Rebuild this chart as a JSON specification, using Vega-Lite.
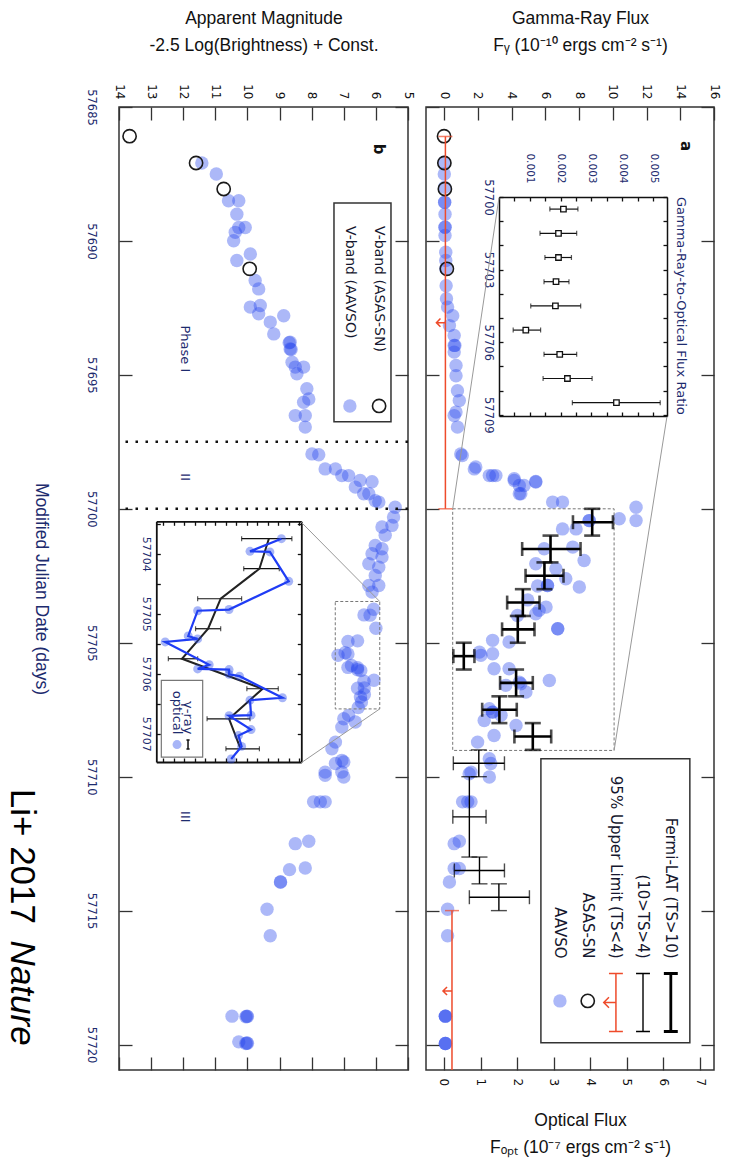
{
"$schema":"https://vega.github.io/schema/vega-lite/v6.json",
"padding":{"left":3,"top":8,"right":5,"bottom":4},
"config":{
 "view":{"stroke":"#333","strokeWidth":1.5},
 "axis":{"grid":false,"domain":false,"tickColor":"#333","tickWidth":1.3,"labelFont":"DejaVu Sans","labelFontSize":11.5,"labelColor":"#111","labelOverlap":false,"labelFlush":false,"labelBound":false,"titleFont":"Liberation Sans","titleFontSize":17.5,"titleFontWeight":"normal","titleColor":"#111"},
 "text":{"font":"DejaVu Sans"}
},
"datasets":{
 "aavso_mag":[
{"mjd":57687.09,"mag":11.42},{"mjd":57687.5,"mag":10.97},{"mjd":57688.5,"mag":10.59},{"mjd":57688.5,"mag":10.27},{"mjd":57689.0,"mag":10.33},{"mjd":57689.5,"mag":10.27},{"mjd":57689.5,"mag":10.07},{"mjd":57689.68,"mag":10.38},{"mjd":57689.99,"mag":10.43},{"mjd":57690.49,"mag":9.91},{"mjd":57690.73,"mag":10.33},{"mjd":57691.48,"mag":9.76},{"mjd":57691.79,"mag":9.65},{"mjd":57692.41,"mag":9.6},{"mjd":57692.47,"mag":9.91},{"mjd":57692.72,"mag":9.65},{"mjd":57692.79,"mag":8.87},{"mjd":57693.03,"mag":9.29},{"mjd":57693.47,"mag":9.18},{"mjd":57693.78,"mag":8.67},{"mjd":57693.8,"mag":8.7},{"mjd":57694.03,"mag":8.67},{"mjd":57694.05,"mag":8.64},{"mjd":57694.53,"mag":8.61},{"mjd":57694.71,"mag":8.51},{"mjd":57694.71,"mag":8.25},{"mjd":57694.96,"mag":8.46},{"mjd":57695.52,"mag":8.15},{"mjd":57695.9,"mag":8.09},{"mjd":57696.02,"mag":8.25},{"mjd":57696.52,"mag":8.51},{"mjd":57696.52,"mag":8.2},{"mjd":57696.95,"mag":8.2},{"mjd":57697.95,"mag":7.99},{"mjd":57697.98,"mag":7.78},{"mjd":57698.51,"mag":7.58},{"mjd":57698.51,"mag":7.26},{"mjd":57698.76,"mag":7.06},{"mjd":57698.76,"mag":6.85},{"mjd":57698.94,"mag":6.49},{"mjd":57698.99,"mag":6.12},{"mjd":57699.19,"mag":6.64},{"mjd":57699.44,"mag":6.38},{"mjd":57699.44,"mag":6.22},{"mjd":57699.7,"mag":6.02},{"mjd":57699.75,"mag":5.91},{"mjd":57699.94,"mag":5.4},{"mjd":57700.31,"mag":5.45},{"mjd":57700.62,"mag":5.5},{"mjd":57700.68,"mag":5.81},{"mjd":57700.99,"mag":5.71},{"mjd":57701.37,"mag":6.02},{"mjd":57701.49,"mag":5.81},{"mjd":57701.68,"mag":6.12},{"mjd":57701.8,"mag":5.81},{"mjd":57702.05,"mag":6.22},{"mjd":57702.18,"mag":5.91},{"mjd":57702.49,"mag":6.02},{"mjd":57702.86,"mag":6.22},{"mjd":57702.86,"mag":5.91},{"mjd":57703.11,"mag":6.12},
{"mjd":57703.75,"mag":6.07},{"mjd":57703.96,"mag":6.37},{"mjd":57703.97,"mag":6.18},{"mjd":57704.46,"mag":6.0},{"mjd":57704.93,"mag":6.57},{"mjd":57704.95,"mag":6.87},{"mjd":57705.37,"mag":6.96},{"mjd":57705.42,"mag":6.87},{"mjd":57705.47,"mag":7.18},{"mjd":57705.85,"mag":6.76},{"mjd":57705.92,"mag":6.87},{"mjd":57705.93,"mag":6.57},{"mjd":57706.01,"mag":6.57},{"mjd":57706.04,"mag":6.47},{"mjd":57706.4,"mag":6.06},{"mjd":57706.44,"mag":6.37},{"mjd":57706.69,"mag":6.36},{"mjd":57706.7,"mag":6.57},{"mjd":57706.93,"mag":6.36},{"mjd":57707.03,"mag":6.48},{"mjd":57707.21,"mag":6.45},{"mjd":57707.42,"mag":6.55},
{"mjd":57707.71,"mag":6.85},{"mjd":57707.84,"mag":7.0},{"mjd":57707.96,"mag":6.64},{"mjd":57708.15,"mag":7.06},{"mjd":57708.71,"mag":7.26},{"mjd":57708.96,"mag":7.37},{"mjd":57709.39,"mag":7.06},{"mjd":57709.45,"mag":7.0},{"mjd":57709.51,"mag":7.26},{"mjd":57709.83,"mag":7.58},{"mjd":57709.83,"mag":7.06},{"mjd":57709.95,"mag":7.58},{"mjd":57710.01,"mag":7.0},{"mjd":57710.94,"mag":7.94},{"mjd":57710.94,"mag":7.73},{"mjd":57710.94,"mag":7.58},{"mjd":57712.41,"mag":8.09},{"mjd":57712.5,"mag":8.51},{"mjd":57713.41,"mag":8.2},{"mjd":57713.47,"mag":8.69},{"mjd":57713.93,"mag":8.97},{"mjd":57713.93,"mag":8.97},{"mjd":57714.95,"mag":9.39},{"mjd":57715.94,"mag":9.29},{"mjd":57718.94,"mag":10.48},{"mjd":57718.94,"mag":10.02},{"mjd":57718.96,"mag":10.05},{"mjd":57718.95,"mag":10.0},{"mjd":57719.9,"mag":10.27},{"mjd":57719.94,"mag":10.02},{"mjd":57719.96,"mag":10.05},{"mjd":57719.95,"mag":10.0}
 ],
 "aavso_flux":[
{"mjd":57687.06,"flux":0.01},{"mjd":57687.5,"flux":0.01},{"mjd":57688.0,"flux":0.02},{"mjd":57688.56,"flux":0.02},{"mjd":57688.56,"flux":0.02},{"mjd":57689.0,"flux":0.03},{"mjd":57689.49,"flux":0.03},{"mjd":57689.49,"flux":0.03},{"mjd":57689.8,"flux":0.03},{"mjd":57690.42,"flux":0.05},{"mjd":57690.73,"flux":0.05},{"mjd":57691.04,"flux":0.05},{"mjd":57691.67,"flux":0.06},{"mjd":57692.16,"flux":0.07},{"mjd":57692.47,"flux":0.1},{"mjd":57692.79,"flux":0.24},{"mjd":57693.16,"flux":0.15},{"mjd":57693.53,"flux":0.28},{"mjd":57693.9,"flux":0.28},{"mjd":57693.9,"flux":0.3},{"mjd":57694.15,"flux":0.28},{"mjd":57694.65,"flux":0.33},{"mjd":57695.03,"flux":0.33},{"mjd":57695.59,"flux":0.37},{"mjd":57695.96,"flux":0.42},{"mjd":57696.39,"flux":0.33},{"mjd":57696.52,"flux":0.28},{"mjd":57696.95,"flux":0.37},{"mjd":57697.95,"flux":0.46},{"mjd":57698.01,"flux":0.5},{"mjd":57698.44,"flux":0.87},{"mjd":57698.51,"flux":0.83},{"mjd":57698.76,"flux":1.24},{"mjd":57698.76,"flux":1.33},{"mjd":57698.76,"flux":1.42},{"mjd":57698.88,"flux":1.92},{"mjd":57698.94,"flux":1.92},{"mjd":57698.98,"flux":2.51},{"mjd":57699.0,"flux":2.51},{"mjd":57699.13,"flux":2.06},{"mjd":57699.13,"flux":2.19},{"mjd":57699.44,"flux":2.06},{"mjd":57699.44,"flux":2.1},
{"mjd":57699.75,"flux":2.97},{"mjd":57699.75,"flux":3.24},{"mjd":57699.94,"flux":5.25},{"mjd":57700.44,"flux":5.25},{"mjd":57700.37,"flux":4.79},{"mjd":57700.44,"flux":3.97},{"mjd":57700.44,"flux":3.97},{"mjd":57700.75,"flux":3.24},{"mjd":57700.75,"flux":3.61},{"mjd":57701.43,"flux":3.52},{"mjd":57701.49,"flux":2.74},{"mjd":57701.93,"flux":3.83},{"mjd":57702.05,"flux":2.51},{"mjd":57702.24,"flux":3.06},{"mjd":57702.61,"flux":3.33},{"mjd":57702.92,"flux":3.7},{"mjd":57702.86,"flux":2.83},{"mjd":57702.86,"flux":2.83},{"mjd":57702.88,"flux":2.56},{"mjd":57703.4,"flux":2.29},{"mjd":57703.67,"flux":2.79},{"mjd":57703.79,"flux":2.6},{"mjd":57703.92,"flux":2.51},{"mjd":57703.98,"flux":2.01},{"mjd":57704.48,"flux":3.11},{"mjd":57704.48,"flux":3.11},{"mjd":57704.97,"flux":1.78},{"mjd":57704.91,"flux":1.33},{"mjd":57705.35,"flux":0.97},{"mjd":57705.41,"flux":1.33},{"mjd":57705.47,"flux":1.01},{"mjd":57705.97,"flux":1.37},{"mjd":57705.97,"flux":1.78},{"mjd":57706.47,"flux":2.06},{"mjd":57706.41,"flux":2.88},{"mjd":57706.53,"flux":2.1},{"mjd":57706.84,"flux":2.24},{"mjd":57706.59,"flux":1.69},{"mjd":57707.46,"flux":1.24},{"mjd":57707.59,"flux":1.33},{"mjd":57707.59,"flux":1.33},{"mjd":57707.71,"flux":1.56},{"mjd":57707.9,"flux":1.1},{"mjd":57708.09,"flux":1.97},{"mjd":57708.46,"flux":1.37},{"mjd":57708.71,"flux":0.92},{"mjd":57709.33,"flux":1.24},{"mjd":57709.51,"flux":1.28},{"mjd":57709.83,"flux":0.74},{"mjd":57709.89,"flux":0.69},{"mjd":57710.01,"flux":1.24},
{"mjd":57710.94,"flux":0.51},{"mjd":57710.94,"flux":0.65},{"mjd":57710.94,"flux":0.74},{"mjd":57712.41,"flux":0.42},{"mjd":57712.5,"flux":0.28},{"mjd":57713.43,"flux":0.28},{"mjd":57713.43,"flux":0.42},{"mjd":57713.93,"flux":0.15},{"mjd":57714.95,"flux":0.1},{"mjd":57715.94,"flux":0.1},{"mjd":57718.94,"flux":0.04},{"mjd":57718.94,"flux":0.04},{"mjd":57718.94,"flux":0.04},{"mjd":57719.96,"flux":0.04},{"mjd":57719.96,"flux":0.04},{"mjd":57719.96,"flux":0.04}
 ],
 "asassn":[{"mjd":57686.09,"mag":13.67,"flux":0.003},{"mjd":57687.09,"mag":11.6,"flux":0.012},{"mjd":57688.06,"mag":10.74,"flux":0.026},{"mjd":57691.04,"mag":9.93,"flux":0.08}],
 "phase_bounds":[{"mjd":57697.5},{"mjd":57700}],
 "phases":[{"label":"Phase I","mjd":57694.03},{"label":"II","mjd":57698.82},{"label":"III","mjd":57711.5}],
 "fermi":[
{"t":57700.5,"t0":57700,"t1":57701,"g":8.78,"g0":7.64,"g1":10.01,"ts":"TS>10"},
{"t":57701.5,"t0":57701,"t1":57702,"g":6.31,"g0":4.63,"g1":8.09,"ts":"TS>10"},
{"t":57702.5,"t0":57702,"t1":57703,"g":5.95,"g0":4.83,"g1":7.08,"ts":"TS>10"},
{"t":57703.5,"t0":57703,"t1":57704,"g":4.67,"g0":3.74,"g1":5.66,"ts":"TS>10"},
{"t":57704.5,"t0":57704,"t1":57705,"g":4.37,"g0":3.44,"g1":5.36,"ts":"TS>10"},
{"t":57705.5,"t0":57705,"t1":57706,"g":1.17,"g0":0.55,"g1":1.8,"ts":"TS>10"},
{"t":57706.5,"t0":57706,"t1":57707,"g":4.27,"g0":3.32,"g1":5.26,"ts":"TS>10"},
{"t":57707.5,"t0":57707,"t1":57708,"g":3.28,"g0":2.26,"g1":4.31,"ts":"TS>10"},
{"t":57708.5,"t0":57708,"t1":57709,"g":5.26,"g0":4.17,"g1":6.35,"ts":"TS>10"},
{"t":57709.5,"t0":57709,"t1":57710,"g":2.06,"g0":0.55,"g1":3.58,"ts":"10>TS>4"},
{"t":57711.5,"t0":57710,"t1":57713,"g":1.5,"g0":0.52,"g1":2.49,"ts":"10>TS>4"},
{"t":57713.5,"t0":57713,"t1":57714,"g":2.1,"g0":0.61,"g1":3.58,"ts":"10>TS>4"},
{"t":57714.5,"t0":57714,"t1":57715,"g":3.25,"g0":1.5,"g1":5.06,"ts":"10>TS>4"}
 ],
 "ul":[{"t0":57686.1,"t1":57700,"tc":57693.05,"g":0.08},{"t0":57715,"t1":57721,"tc":57718,"g":0.47}],
 "ratio":[
{"mjd":57700.5,"r":0.00209,"r0":0.00165,"r1":0.00256},{"mjd":57701.5,"r":0.00193,"r0":0.00133,"r1":0.00252},{"mjd":57702.5,"r":0.00193,"r0":0.00149,"r1":0.00235},{"mjd":57703.5,"r":0.00185,"r0":0.00146,"r1":0.00227},{"mjd":57704.5,"r":0.00183,"r0":0.00103,"r1":0.00265},{"mjd":57705.5,"r":0.00087,"r0":0.00046,"r1":0.00135},{"mjd":57706.5,"r":0.00197,"r0":0.00146,"r1":0.00252},{"mjd":57707.5,"r":0.00222,"r0":0.00143,"r1":0.00302},{"mjd":57708.5,"r":0.00381,"r0":0.00238,"r1":0.00523}
 ],
 "inset_gam":[
{"mjd":57703.75,"v":6.19,"v1":6.45,"v2":5.97},{"mjd":57704.25,"v":6.28,"v1":6.43,"v2":6.09},{"mjd":57704.75,"v":6.65,"v1":6.87,"v2":6.45},{"mjd":57705.25,"v":6.77,"v1":6.89,"v2":6.65},{"mjd":57705.75,"v":7.02,"v1":7.15,"v2":6.87},{"mjd":57706.25,"v":6.25,"v1":6.4,"v2":6.1},{"mjd":57706.75,"v":6.57,"v1":6.78,"v2":6.37},{"mjd":57707.25,"v":6.46,"v1":6.6,"v2":6.28}
 ]
},
"spacing":9,
"hconcat":[
{
 "width":289,"height":963,
 "resolve":{"scale":{"x":"independent","y":"independent"}},
 "layer":[
  {
   "resolve":{"axis":{"x":"independent","y":"independent"}},
   "layer":[
    {"data":{"name":"aavso_mag"},"mark":{"type":"point","filled":true,"color":"#2445ec","opacity":0.38,"size":180,"strokeWidth":0},
     "encoding":{
      "x":{"field":"mag","type":"quantitative","scale":{"domain":[5,14],"reverse":true,"nice":false,"zero":false},
           "axis":{"orient":"top","values":[5,6,7,8,9,10,11,12,13,14],"labelAngle":90,"tickSize":-13,"labelPadding":21,"labelFontSize":12,"title":["Apparent Magnitude","-2.5 Log(Brightness) + Const."],"titlePadding":29,"titleLineHeight":27}},
      "y":{"field":"mjd","type":"quantitative","scale":{"domain":[57685,57720.95],"reverse":true,"nice":false,"zero":false},
           "axis":{"orient":"left","values":[57685,57690,57695,57700,57705,57710,57715,57720],"format":"d","labelAngle":90,"tickSize":-13,"labelPadding":36,"labelColor":"#1d2b6e","title":"Modified Julian Date (days)","titleAngle":90,"titleBaseline":"top","titlePadding":35,"titleColor":"#1d2b6e"}}}},
    {"data":{"name":"asassn"},"mark":{"type":"point","filled":false,"color":"#1a1a1a","strokeWidth":1.6,"size":175,"opacity":1},
     "encoding":{
      "x":{"field":"mag","type":"quantitative","axis":{"orient":"bottom","values":[5,6,7,8,9,10,11,12,13,14],"labels":false,"tickSize":-13,"title":null}},
      "y":{"field":"mjd","type":"quantitative","axis":{"orient":"right","values":[57685,57690,57695,57700,57705,57710,57715,57720],"labels":false,"tickSize":-13,"title":null}}}},
    {"data":{"name":"phase_bounds"},"mark":{"type":"rule","color":"#111","strokeWidth":2.5,"strokeDash":[2.5,7.5]},
     "encoding":{"y":{"field":"mjd","type":"quantitative","axis":null}}},
    {"data":{"name":"phases"},"mark":{"type":"text","angle":90,"fontSize":13,"color":"#1d2b6e","align":"center","baseline":"middle"},
     "encoding":{"x":{"datum":11.96,"axis":null},"y":{"field":"mjd","type":"quantitative","axis":null},"text":{"field":"label"}}},
    {"data":{"values":[{}]},"mark":{"type":"rect","fill":"white","stroke":"#333","strokeWidth":1.5},
     "encoding":{"x":{"datum":7.305,"axis":null},"x2":{"datum":5.53},"y":{"datum":57688.58,"axis":null},"y2":{"datum":57696.75}}},
    {"data":{"values":[{}]},"mark":{"type":"text","angle":90,"align":"left","baseline":"middle","fontSize":14,"color":"#15172e","text":"V-band (ASAS-SN)"},
     "encoding":{"x":{"datum":5.9,"axis":null},"y":{"datum":57689.44,"axis":null}}},
    {"data":{"values":[{}]},"mark":{"type":"text","angle":90,"align":"left","baseline":"middle","fontSize":14,"color":"#15172e","text":"V-band (AAVSO)"},
     "encoding":{"x":{"datum":6.81,"axis":null},"y":{"datum":57689.44,"axis":null}}},
    {"data":{"values":[{}]},"mark":{"type":"point","filled":false,"color":"#1a1a1a","strokeWidth":1.6,"size":175,"opacity":1},
     "encoding":{"x":{"datum":5.9,"axis":null},"y":{"datum":57696.16,"axis":null}}},
    {"data":{"values":[{}]},"mark":{"type":"point","filled":true,"color":"#2445ec","opacity":0.38,"size":180,"strokeWidth":0},
     "encoding":{"x":{"datum":6.81,"axis":null},"y":{"datum":57696.16,"axis":null}}},
    {"data":{"values":[{}]},"mark":{"type":"text","angle":90,"align":"center","baseline":"middle","fontSize":15,"fontWeight":"bold","color":"#111","text":"b"},
     "encoding":{"x":{"datum":5.91,"axis":null},"y":{"datum":57686.57,"axis":null}}},
    {"data":{"values":[{}]},"mark":{"type":"rect","fillOpacity":0,"stroke":"#777","strokeWidth":1,"strokeDash":[3,2]},
     "encoding":{"x":{"datum":7.265,"axis":null},"x2":{"datum":5.88},"y":{"datum":57703.46,"axis":null},"y2":{"datum":57707.47}}},
    {"data":{"values":[{}]},"mark":{"type":"rule","color":"#999","strokeWidth":1},
     "encoding":{"x":{"datum":8.324,"axis":null},"y":{"datum":57700.5,"axis":null},"x2":{"datum":5.88},"y2":{"datum":57703.46}}},
    {"data":{"values":[{}]},"mark":{"type":"rule","color":"#999","strokeWidth":1},
     "encoding":{"x":{"datum":8.324,"axis":null},"y":{"datum":57709.48,"axis":null},"x2":{"datum":5.88},"y2":{"datum":57707.47}}},
    {"data":{"values":[{}]},"mark":{"type":"text","angle":90,"align":"left","baseline":"middle","font":"Liberation Sans","fontSize":35,"color":"#000","text":"Li+ 2017"},
     "encoding":{"x":{"datum":17.02,"axis":null},"y":{"datum":57710.45,"axis":null}}},
    {"data":{"values":[{}]},"mark":{"type":"text","angle":90,"align":"left","baseline":"middle","font":"Liberation Sans","fontSize":35,"fontStyle":"italic","color":"#000","text":"Nature"},
     "encoding":{"x":{"datum":17.02,"axis":null},"y":{"datum":57716.12,"axis":null}}}
   ]
  },
  {
   "resolve":{"axis":{"x":"independent","y":"independent"}},
   "layer":[
    {"data":{"name":"inset_gam"},"mark":{"type":"rule","color":"#111","strokeWidth":1.2},
     "encoding":{
      "x":{"field":"v1","type":"quantitative","scale":{"domain":[5.88,7.265],"range":[182.3,37.3],"nice":false,"zero":false},
           "axis":{"orient":"top","offset":-414.3,"values":[5.9,6.0,6.1,6.2,6.3,6.4,6.5,6.6,6.7,6.8,6.9,7.0,7.1,7.2],"labels":false,"tickSize":-4,"domain":true,"domainColor":"#111","domainWidth":1.8,"tickColor":"#111","title":null}},
      "x2":{"field":"v2"},
      "y":{"field":"mjd","type":"quantitative","scale":{"domain":[57703.46,57707.47],"range":[414.3,655],"nice":false,"zero":false},
           "axis":{"orient":"left","offset":-37.3,"values":[57703.5,57704,57704.5,57705,57705.5,57706,57706.5,57707],"labelExpr":"datum.value % 1 == 0 ? format(datum.value, 'd') : ''","labelAngle":90,"tickSize":-4,"labelPadding":9,"labelColor":"#1d2b6e","labelFontSize":11,"domain":true,"domainColor":"#111","domainWidth":1.8,"tickColor":"#111","title":null}}}},
    {"data":{"name":"inset_gam"},"transform":[{"fold":["v1","v2"],"as":["end","vv"]}],"mark":{"type":"tick","orient":"vertical","color":"#111","size":5,"thickness":1.2},
     "encoding":{
      "x":{"field":"vv","type":"quantitative","axis":{"orient":"bottom","offset":-308,"values":[5.9,6.0,6.1,6.2,6.3,6.4,6.5,6.6,6.7,6.8,6.9,7.0,7.1,7.2],"labels":false,"tickSize":-4,"domain":true,"domainColor":"#111","domainWidth":1.8,"tickColor":"#111","title":null}},
      "y":{"field":"mjd","type":"quantitative","axis":{"orient":"right","offset":-106.7,"values":[57703.5,57704,57704.5,57705,57705.5,57706,57706.5,57707],"labels":false,"tickSize":-4,"domain":true,"domainColor":"#111","domainWidth":1.8,"tickColor":"#111","title":null}}}},
    {"data":{"name":"inset_gam"},"mark":{"type":"line","color":"#222","strokeWidth":2},
     "encoding":{"x":{"field":"v","type":"quantitative","axis":null},"y":{"field":"mjd","type":"quantitative","axis":null},"order":{"field":"mjd"}}},
    {"data":{"name":"aavso_mag"},"transform":[{"filter":"datum.mjd > 57703.46 && datum.mjd < 57707.47"}],"mark":{"type":"line","color":"#1f3cf5","strokeWidth":2.2},
     "encoding":{"x":{"field":"mag","type":"quantitative","axis":null},"y":{"field":"mjd","type":"quantitative","axis":null},"order":{"field":"mjd"}}},
    {"data":{"name":"aavso_mag"},"transform":[{"filter":"datum.mjd > 57703.46 && datum.mjd < 57707.47"}],"mark":{"type":"point","filled":true,"color":"#2445ec","opacity":0.4,"size":80,"strokeWidth":0},
     "encoding":{"x":{"field":"mag","type":"quantitative","axis":null},"y":{"field":"mjd","type":"quantitative","axis":null}}},
    {"data":{"values":[{}]},"mark":{"type":"rect","fill":"white","stroke":"#777","strokeWidth":1.2},
     "encoding":{"x":{"datum":7.217,"axis":null},"x2":{"datum":6.822},"y":{"datum":57706.11,"axis":null},"y2":{"datum":57707.39}}},
    {"data":{"values":[{}]},"mark":{"type":"text","angle":90,"align":"right","baseline":"middle","fontSize":13,"color":"#1d2b6e","text":"γ-ray"},
     "encoding":{"x":{"datum":6.962,"axis":null},"y":{"datum":57707.01,"axis":null}}},
    {"data":{"values":[{}]},"mark":{"type":"text","angle":90,"align":"right","baseline":"middle","fontSize":13,"color":"#1d2b6e","text":"optical"},
     "encoding":{"x":{"datum":7.067,"axis":null},"y":{"datum":57707.01,"axis":null}}},
    {"data":{"values":[{}]},"mark":{"type":"point","shape":"M-0.35,-1L0.35,-1M0,-1L0,1M-0.35,1L0.35,1","filled":false,"color":"#111","strokeWidth":1.5,"size":81,"opacity":1},
     "encoding":{"x":{"datum":6.962,"axis":null},"y":{"datum":57707.18,"axis":null}}},
    {"data":{"values":[{}]},"mark":{"type":"point","filled":true,"color":"#2445ec","opacity":0.4,"size":80,"strokeWidth":0},
     "encoding":{"x":{"datum":7.067,"axis":null},"y":{"datum":57707.18,"axis":null}}}
   ]
  }
 ]
},
{
 "width":288,"height":963,
 "resolve":{"scale":{"x":"independent","y":"independent"}},
 "layer":[
  {
   "resolve":{"axis":{"x":"independent","y":"independent"}},
   "layer":[
    {"data":{"name":"aavso_flux"},"mark":{"type":"point","filled":true,"color":"#2445ec","opacity":0.38,"size":180,"strokeWidth":0},
     "encoding":{
      "x":{"field":"flux","type":"quantitative","scale":{"domain":[-0.49,7.38],"nice":false,"zero":false},
           "axis":{"orient":"bottom","values":[0,1,2,3,4,5,6,7],"labelAngle":90,"tickSize":-13,"labelPadding":21,"labelFontSize":12,"title":["Optical Flux","Fₒₚₜ (10⁻⁷ ergs cm⁻² s⁻¹)"],"titleX":154,"titlePadding":26,"titleLineHeight":27}},
      "y":{"field":"mjd","type":"quantitative","scale":{"domain":[57685,57720.95],"reverse":true,"nice":false,"zero":false},
           "axis":{"orient":"left","values":[57685,57690,57695,57700,57705,57710,57715,57720],"labels":false,"tickSize":-13,"title":null}}}},
    {"data":{"name":"asassn"},"mark":{"type":"point","filled":false,"color":"#1a1a1a","strokeWidth":1.6,"size":175,"opacity":1},
     "encoding":{
      "x":{"field":"flux","type":"quantitative","axis":null},
      "y":{"field":"mjd","type":"quantitative","axis":{"orient":"right","values":[57685,57690,57695,57700,57705,57710,57715,57720],"labels":false,"tickSize":-13,"title":null}}}},
    {"data":{"values":[{}]},"mark":{"type":"rect","fillOpacity":0,"stroke":"#777","strokeWidth":1,"strokeDash":[3,2]},
     "encoding":{"x":{"datum":0.24,"axis":null},"x2":{"datum":4.65},"y":{"datum":57700,"axis":null},"y2":{"datum":57709.02}}},
    {"data":{"values":[{}]},"mark":{"type":"rule","color":"#999","strokeWidth":1},
     "encoding":{"x":{"datum":1.503,"axis":null},"y":{"datum":57688.4,"axis":null},"x2":{"datum":0.24},"y2":{"datum":57700}}},
    {"data":{"values":[{}]},"mark":{"type":"rule","color":"#999","strokeWidth":1},
     "encoding":{"x":{"datum":6.093,"axis":null},"y":{"datum":57696.57,"axis":null},"x2":{"datum":4.65},"y2":{"datum":57709.02}}},
    {"data":{"values":[{}]},"mark":{"type":"rect","fill":"white","stroke":"#333","strokeWidth":1.5},
     "encoding":{"x":{"datum":2.65,"axis":null},"x2":{"datum":6.72},"y":{"datum":57709.33,"axis":null},"y2":{"datum":57719.93}}},
    {"data":{"values":[{}]},"mark":{"type":"text","angle":90,"align":"right","baseline":"middle","fontSize":15,"color":"#15172e","text":"Fermi-LAT (TS>10)"},
     "encoding":{"x":{"datum":6.2,"axis":null},"y":{"datum":57716.79,"axis":null}}},
    {"data":{"values":[{}]},"mark":{"type":"text","angle":90,"align":"right","baseline":"middle","fontSize":15,"color":"#15172e","text":"(10>TS>4)"},
     "encoding":{"x":{"datum":5.44,"axis":null},"y":{"datum":57716.79,"axis":null}}},
    {"data":{"values":[{}]},"mark":{"type":"text","angle":90,"align":"right","baseline":"middle","fontSize":15,"color":"#15172e","text":"95% Upper Limit (TS<4)"},
     "encoding":{"x":{"datum":4.7,"axis":null},"y":{"datum":57716.79,"axis":null}}},
    {"data":{"values":[{}]},"mark":{"type":"text","angle":90,"align":"right","baseline":"middle","fontSize":15,"color":"#15172e","text":"ASAS-SN"},
     "encoding":{"x":{"datum":3.93,"axis":null},"y":{"datum":57716.79,"axis":null}}},
    {"data":{"values":[{}]},"mark":{"type":"text","angle":90,"align":"right","baseline":"middle","fontSize":15,"color":"#15172e","text":"AAVSO"},
     "encoding":{"x":{"datum":3.17,"axis":null},"y":{"datum":57716.79,"axis":null}}},
    {"data":{"values":[{}]},"mark":{"type":"point","shape":"M-0.24,-1L0.24,-1M0,-1L0,1M-0.24,1L0.24,1","filled":false,"color":"#000","strokeWidth":2.8,"size":3364,"opacity":1},
     "encoding":{"x":{"datum":6.2,"axis":null},"y":{"datum":57718.43,"axis":null}}},
    {"data":{"values":[{}]},"mark":{"type":"point","shape":"M-0.24,-1L0.24,-1M0,-1L0,1M-0.24,1L0.24,1","filled":false,"color":"#000","strokeWidth":1.4,"size":3364,"opacity":1},
     "encoding":{"x":{"datum":5.44,"axis":null},"y":{"datum":57718.43,"axis":null}}},
    {"data":{"values":[{}]},"mark":{"type":"point","shape":"M-0.24,-1L0.24,-1M0,-1L0,1M-0.24,1L0.24,1M0,0L-0.42,0M-0.24,-0.18L-0.42,0L-0.24,0.18","filled":false,"color":"#ee4b2b","strokeWidth":1.5,"size":3364,"opacity":1},
     "encoding":{"x":{"datum":4.7,"axis":null},"y":{"datum":57718.43,"axis":null}}},
    {"data":{"values":[{}]},"mark":{"type":"point","filled":false,"color":"#1a1a1a","strokeWidth":1.6,"size":175,"opacity":1},
     "encoding":{"x":{"datum":3.93,"axis":null},"y":{"datum":57718.37,"axis":null}}},
    {"data":{"values":[{}]},"mark":{"type":"point","filled":true,"color":"#2445ec","opacity":0.38,"size":180,"strokeWidth":0},
     "encoding":{"x":{"datum":3.17,"axis":null},"y":{"datum":57718.37,"axis":null}}},
    {"data":{"values":[{}]},"mark":{"type":"text","angle":90,"align":"center","baseline":"middle","fontSize":15,"fontWeight":"bold","color":"#111","text":"a"},
     "encoding":{"x":{"datum":6.61,"axis":null},"y":{"datum":57686.46,"axis":null}}}
   ]
  },
  {
   "resolve":{"axis":{"x":"independent","y":"independent"}},
   "layer":[
    {"data":{"name":"fermi"},"transform":[{"filter":"datum.ts == 'TS>10'"}],"mark":{"type":"rule","color":"#000","strokeWidth":2.6},
     "encoding":{
      "x":{"field":"g0","type":"quantitative","scale":{"domain":[-1.07,16],"nice":false,"zero":false},
           "axis":{"orient":"top","values":[0,2,4,6,8,10,12,14,16],"labelAngle":90,"tickSize":-13,"labelPadding":21,"labelFontSize":12,"title":["Gamma-Ray Flux","Fᵧ (10⁻¹⁰ ergs cm⁻² s⁻¹)"],"titleX":154,"titlePadding":29,"titleLineHeight":27}},
      "x2":{"field":"g1"},
      "y":{"field":"t","type":"quantitative","scale":{"domain":[57685,57720.95],"reverse":true,"nice":false,"zero":false},"axis":null}}},
    {"data":{"name":"fermi"},"transform":[{"filter":"datum.ts == 'TS>10'"}],"mark":{"type":"rule","color":"#000","strokeWidth":2.6},
     "encoding":{"x":{"field":"g","type":"quantitative","axis":null},"y":{"field":"t0","type":"quantitative","axis":null},"y2":{"field":"t1"}}},
    {"data":{"name":"fermi"},"transform":[{"filter":"datum.ts == 'TS>10'"},{"fold":["g0","g1"],"as":["end","gv"]}],"mark":{"type":"tick","orient":"vertical","color":"#000","size":14,"thickness":2.6},
     "encoding":{"x":{"field":"gv","type":"quantitative","axis":null},"y":{"field":"t","type":"quantitative","axis":null}}},
    {"data":{"name":"fermi"},"transform":[{"filter":"datum.ts == 'TS>10'"},{"fold":["t0","t1"],"as":["end","tv"]}],"mark":{"type":"tick","orient":"horizontal","color":"#000","size":16,"thickness":2.6},
     "encoding":{"x":{"field":"g","type":"quantitative","axis":null},"y":{"field":"tv","type":"quantitative","axis":null}}},
    {"data":{"name":"fermi"},"transform":[{"filter":"datum.ts == '10>TS>4'"}],"mark":{"type":"rule","color":"#000","strokeWidth":1.4},
     "encoding":{"x":{"field":"g0","type":"quantitative","axis":null},"x2":{"field":"g1"},"y":{"field":"t","type":"quantitative","axis":null}}},
    {"data":{"name":"fermi"},"transform":[{"filter":"datum.ts == '10>TS>4'"}],"mark":{"type":"rule","color":"#000","strokeWidth":1.4},
     "encoding":{"x":{"field":"g","type":"quantitative","axis":null},"y":{"field":"t0","type":"quantitative","axis":null},"y2":{"field":"t1"}}},
    {"data":{"name":"fermi"},"transform":[{"filter":"datum.ts == '10>TS>4'"},{"fold":["g0","g1"],"as":["end","gv"]}],"mark":{"type":"tick","orient":"vertical","color":"#000","size":14,"thickness":1.4},
     "encoding":{"x":{"field":"gv","type":"quantitative","axis":null},"y":{"field":"t","type":"quantitative","axis":null}}},
    {"data":{"name":"fermi"},"transform":[{"filter":"datum.ts == '10>TS>4'"},{"fold":["t0","t1"],"as":["end","tv"]}],"mark":{"type":"tick","orient":"horizontal","color":"#000","size":16,"thickness":1.4},
     "encoding":{"x":{"field":"g","type":"quantitative","axis":null},"y":{"field":"tv","type":"quantitative","axis":null}}},
    {"data":{"name":"ul"},"mark":{"type":"rule","color":"#ee4b2b","strokeWidth":1.5,"clip":true},
     "encoding":{"x":{"field":"g","type":"quantitative","axis":null},"y":{"field":"t0","type":"quantitative","axis":null},"y2":{"field":"t1"}}},
    {"data":{"name":"ul"},"transform":[{"fold":["t0","t1"],"as":["end","tv"]}],"mark":{"type":"tick","orient":"horizontal","color":"#ee4b2b","size":14,"thickness":1.5,"clip":true},
     "encoding":{"x":{"field":"g","type":"quantitative","axis":null},"y":{"field":"tv","type":"quantitative","axis":null}}},
    {"data":{"name":"ul"},"mark":{"type":"point","shape":"M0,0L-1,0M-0.55,-0.45L-1,0L-0.55,0.45","filled":false,"color":"#ee4b2b","strokeWidth":1.5,"size":324,"opacity":1},
     "encoding":{"x":{"field":"g","type":"quantitative","axis":null},"y":{"field":"tc","type":"quantitative","axis":null}}}
   ]
  },
  {
   "resolve":{"axis":{"x":"independent","y":"independent"}},
   "layer":[
    {"data":{"name":"ratio"},"mark":{"type":"rule","color":"#111","strokeWidth":1.2},
     "encoding":{
      "x":{"field":"r0","type":"quantitative","scale":{"domain":[0,0.00545],"range":[73,241],"nice":false,"zero":false},
           "axis":{"orient":"top","offset":-90,"values":[0.0005,0.001,0.0015,0.002,0.0025,0.003,0.0035,0.004,0.0045,0.005],"labelExpr":"round(datum.value*10000) % 10 == 0 ? format(datum.value, '.3f') : ''","labelAngle":90,"tickSize":-4,"labelPadding":18,"labelFontSize":10.5,"labelColor":"#1d2b6e","domain":true,"domainColor":"#111","domainWidth":1.5,"tickColor":"#111","title":null}},
      "x2":{"field":"r1"},
      "y":{"field":"mjd","type":"quantitative","scale":{"domain":[57700,57709.05],"range":[90,309],"nice":false,"zero":false},
           "axis":{"orient":"left","offset":-73,"values":[57700,57701,57702,57703,57704,57705,57706,57707,57708,57709],"labelExpr":"datum.value % 3 == 1 ? format(datum.value, 'd') : ''","labelAngle":90,"tickSize":-4,"labelPadding":10,"labelFontSize":11.5,"labelColor":"#1d2b6e","domain":true,"domainColor":"#111","domainWidth":1.5,"tickColor":"#111","title":null}}}},
    {"data":{"name":"ratio"},"transform":[{"fold":["r0","r1"],"as":["end","rv"]}],"mark":{"type":"tick","orient":"vertical","color":"#111","size":5,"thickness":1.2},
     "encoding":{
      "x":{"field":"rv","type":"quantitative","axis":{"orient":"bottom","offset":-654,"values":[0.0005,0.001,0.0015,0.002,0.0025,0.003,0.0035,0.004,0.0045,0.005],"labels":false,"tickSize":-4,"domain":true,"domainColor":"#111","domainWidth":1.5,"tickColor":"#111","title":null}},
      "y":{"field":"mjd","type":"quantitative","axis":{"orient":"right","offset":-47,"values":[57700,57701,57702,57703,57704,57705,57706,57707,57708,57709],"labels":false,"tickSize":-4,"domain":true,"domainColor":"#111","domainWidth":1.5,"tickColor":"#111","title":null}}}},
    {"data":{"name":"ratio"},"mark":{"type":"point","shape":"square","filled":true,"fill":"white","stroke":"#111","strokeWidth":1.3,"size":30,"opacity":1},
     "encoding":{"x":{"field":"r","type":"quantitative","axis":null},"y":{"field":"mjd","type":"quantitative","axis":null}}},
    {"data":{"values":[{}]},"mark":{"type":"text","angle":90,"align":"center","baseline":"middle","fontSize":13,"color":"#1d2b6e","text":"Gamma-Ray-to-Optical Flux Ratio"},
     "encoding":{"x":{"datum":0.0059,"axis":null},"y":{"datum":57704.5,"axis":null}}}
   ]
  }
 ]
}
]
}
